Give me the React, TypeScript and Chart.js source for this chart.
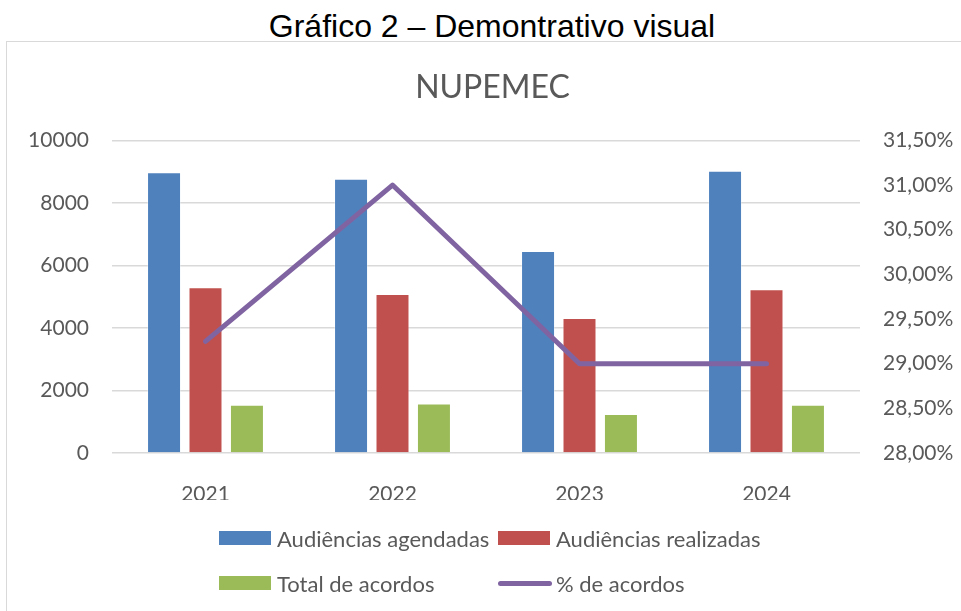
import React, { useEffect, useRef } from "react";
import { Chart, registerables } from "chart.js";

Chart.register(...registerables);

const years = ["2021", "2022", "2023", "2024"];
const agendadas = [8980, 8770, 6460, 9030];
const realizadas = [5300, 5090, 4320, 5240];
const acordos = [1545, 1585, 1245, 1545];
const pctAcordos = [29.25, 31.0, 29.0, 29.0];

const seriesNames = [
  "Audiências agendadas",
  "Audiências realizadas",
  "Total de acordos",
  "% de acordos",
];
const seriesColors = ["#4F81BD", "#C0504D", "#9BBB59", "#8064A2"];

const FONT = "Lato, 'Open Sans', sans-serif";
const TXT = "#595959";

export default function App() {
  const ref = useRef<HTMLCanvasElement | null>(null);

  useEffect(() => {
    if (!ref.current) return;
    const chart = new Chart(ref.current, {
      type: "bar",
      data: {
        labels: years,
        datasets: [
          {
            type: "line",
            label: seriesNames[3],
            data: pctAcordos,
            yAxisID: "y1",
            borderColor: seriesColors[3],
            backgroundColor: seriesColors[3],
            borderWidth: 5,
            pointRadius: 0,
            tension: 0,
            order: 0,
            borderCapStyle: "round",
            borderJoinStyle: "round",
          } as any,
          {
            label: seriesNames[0],
            data: agendadas,
            yAxisID: "y",
            backgroundColor: seriesColors[0],
            borderColor: "rgba(255,255,255,0.35)",
            borderWidth: 1,
            order: 1,
          },
          {
            label: seriesNames[1],
            data: realizadas,
            yAxisID: "y",
            backgroundColor: seriesColors[1],
            borderColor: "rgba(255,255,255,0.35)",
            borderWidth: 1,
            order: 1,
          },
          {
            label: seriesNames[2],
            data: acordos,
            yAxisID: "y",
            backgroundColor: seriesColors[2],
            borderColor: "rgba(255,255,255,0.35)",
            borderWidth: 1,
            order: 1,
          },
        ],
      },
      options: {
        animation: false,
        responsive: true,
        maintainAspectRatio: false,
        layout: { padding: { left: 24, right: 0, top: 60, bottom: 111 } },
        datasets: {
          bar: { categoryPercentage: 0.665, barPercentage: 0.82 },
        },
        plugins: {
          legend: { display: false },
          tooltip: { enabled: false },
          title: {
            display: true,
            text: "NUPEMEC",
            color: TXT,
            font: { family: FONT, size: 32, weight: "normal" as any, lineHeight: 1.2 },
            padding: { top: 8, bottom: 34 },
          },
        },
        scales: {
          x: {
            grid: { display: false },
            border: { display: false },
            ticks: { color: TXT, font: { family: FONT, size: 21 }, padding: 21 },
            afterFit: (s: any) => {
              s.height = 47;
            },
          },
          y: {
            position: "left",
            min: 0,
            max: 10000,
            ticks: {
              stepSize: 2000,
              color: TXT,
              font: { family: FONT, size: 21 },
              padding: 23,
              callback: (v: any) => String(v),
            },
            grid: { color: "#d9d9d9", lineWidth: 1.5, drawTicks: false },
            border: { display: false },
            afterFit: (s: any) => {
              s.width = 88;
            },
          },
          y1: {
            position: "right",
            min: 28,
            max: 31.5,
            ticks: {
              stepSize: 0.5,
              color: TXT,
              font: { family: FONT, size: 21 },
              padding: 23,
              callback: (v: any) => Number(v).toFixed(2).replace(".", ",") + "%",
            },
            grid: { display: false, drawTicks: false },
            border: { display: false },
            afterFit: (s: any) => {
              s.width = 101;
            },
          },
        },
      },
    });
    return () => chart.destroy();
  }, []);

  const legendItems = [
    { x: 219, y: 538, i: 0 },
    { x: 498, y: 538, i: 1 },
    { x: 219, y: 583, i: 2 },
    { x: 498, y: 583, i: 3 },
  ];

  return (
    <div
      style={{
        position: "fixed",
        left: 0,
        top: 0,
        width: 961,
        height: 611,
        overflow: "hidden",
        background: "#fff",
      }}
    >
      <div
        style={{
          position: "absolute",
          left: 0,
          top: 8,
          width: 984,
          textAlign: "center",
          fontFamily: "'Liberation Sans', Arial, sans-serif",
          fontSize: 32,
          color: "#000",
          whiteSpace: "nowrap",
        }}
      >
        Gráfico 2 – Demontrativo visual
      </div>
      <div
        style={{
          position: "absolute",
          left: 6,
          top: 41,
          width: 1100,
          height: 800,
          border: "1.5px solid #d9d9d9",
        }}
      />
      <div style={{ position: "absolute", left: 0, top: 0, width: 961, height: 611 }}>
        <canvas ref={ref} />
      </div>
      {legendItems.map((it) => (
        <div
          key={it.i}
          style={{
            position: "absolute",
            left: it.x,
            top: it.y - 15,
            height: 30,
            display: "flex",
            alignItems: "center",
            fontFamily: FONT,
            fontSize: 22,
            color: TXT,
            whiteSpace: "nowrap",
          }}
        >
          {it.i === 3 ? (
            <span
              style={{
                display: "inline-block",
                width: 54,
                height: 5,
                borderRadius: 3,
                background: seriesColors[3],
                marginRight: 4,
              }}
            />
          ) : (
            <span
              style={{
                display: "inline-block",
                width: 52,
                height: 14,
                background: seriesColors[it.i],
                marginRight: 6,
              }}
            />
          )}
          <span>{seriesNames[it.i]}</span>
        </div>
      ))}
    </div>
  );
}
